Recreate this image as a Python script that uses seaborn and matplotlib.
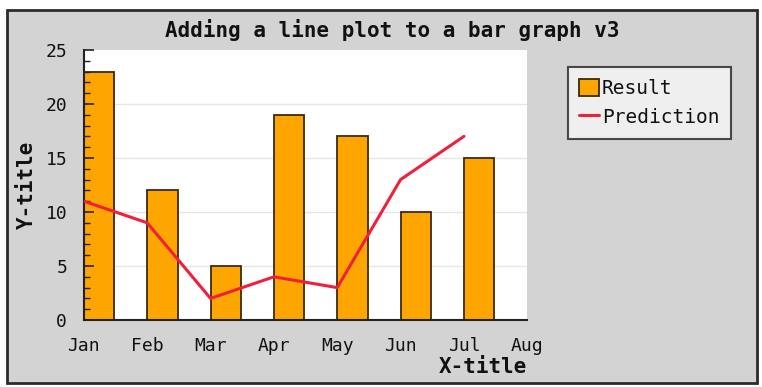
import matplotlib
matplotlib.use("Agg")
import matplotlib.pyplot as plt
import seaborn as sns
import numpy as np
from matplotlib.patches import Rectangle

# data
months = ["Jan", "Feb", "Mar", "Apr", "May", "Jun", "Jul", "Aug"]
result = [23, 12, 5, 19, 17, 10, 15]
prediction = [11, 9, 2, 4, 3, 13, 17]

sns.set_theme(style="white")
plt.rcParams["font.family"] = ["DejaVu Sans Mono", "DejaVu Sans"]
plt.rcParams["text.color"] = "#111111"

fig = plt.figure(figsize=(7.62, 3.87), dpi=100, facecolor="white")

# grey panel with a dark frame, like the original canvas
fig.patches.append(Rectangle((0.009, 0.010), 0.984, 0.964, transform=fig.transFigure,
                             facecolor="#d3d3d3", edgecolor="#2b2b2b", linewidth=2, zorder=-1))

ax = fig.add_axes([0.110, 0.173, 0.582, 0.698])
ax.set_facecolor("white")

x = np.arange(len(result))
ax.bar(x, result, width=0.48, align="edge", color="#ffa500",
       edgecolor="#3a2a10", linewidth=1.3, label="Result", zorder=2)
sns.lineplot(x=x, y=prediction, ax=ax, color="#f0203c", linewidth=2.2,
             label="Prediction", zorder=3)

ax.set_xlim(0, len(months) - 1)
ax.set_ylim(0, 25)
ax.set_xticks(np.arange(len(months)))
ax.set_xticklabels(months)
ax.set_yticks(np.arange(0, 26, 5))
ax.set_yticks(np.arange(0, 26, 1), minor=True)

# light grid behind the bars, ticks drawn on top of them
ax.hlines(ax.get_yticks()[1:-1], 0, len(months) - 1, colors="#e6e6e6", linewidth=1, zorder=0.5)
ax.set_axisbelow(False)

ax.tick_params(axis="y", which="major", direction="in", length=7, width=1.2,
               color="#222222", labelsize=13, pad=12, left=True, labelcolor="#111111")
ax.tick_params(axis="y", which="minor", direction="in", length=4, width=1,
               color="#222222", left=True)
ax.tick_params(axis="x", length=0, labelsize=13, pad=12, labelcolor="#111111")

for side in ["top", "right"]:
    ax.spines[side].set_visible(False)
for side in ["left", "bottom"]:
    ax.spines[side].set_color("#222222")
    ax.spines[side].set_linewidth(1.5)

ax.set_ylabel("Y-title", fontsize=15, fontweight="bold", labelpad=6, color="#111111")
ax.set_xlabel("X-title", fontsize=15, fontweight="bold", loc="right", labelpad=2, color="#111111")

fig.text(0.515, 0.922, "Adding a line plot to a bar graph v3", ha="center", va="center",
         fontsize=15, fontweight="bold", color="#111111")

handles, labels = ax.get_legend_handles_labels()
ax.get_legend().remove()
order = [labels.index("Result"), labels.index("Prediction")]
leg = fig.legend([handles[i] for i in order], [labels[i] for i in order],
                 loc="upper left", bbox_to_anchor=(0.745, 0.827), borderaxespad=0,
                 fontsize=14, handlelength=1.0, handleheight=1.0, handletextpad=0.15,
                 borderpad=0.6, labelspacing=0.5, frameon=True, fancybox=False)
leg.get_frame().set_edgecolor("#222222")
leg.get_frame().set_linewidth(1.5)
leg.get_frame().set_facecolor("#f7f7f7")

fig.savefig("out.png", dpi=100, facecolor=fig.get_facecolor())
